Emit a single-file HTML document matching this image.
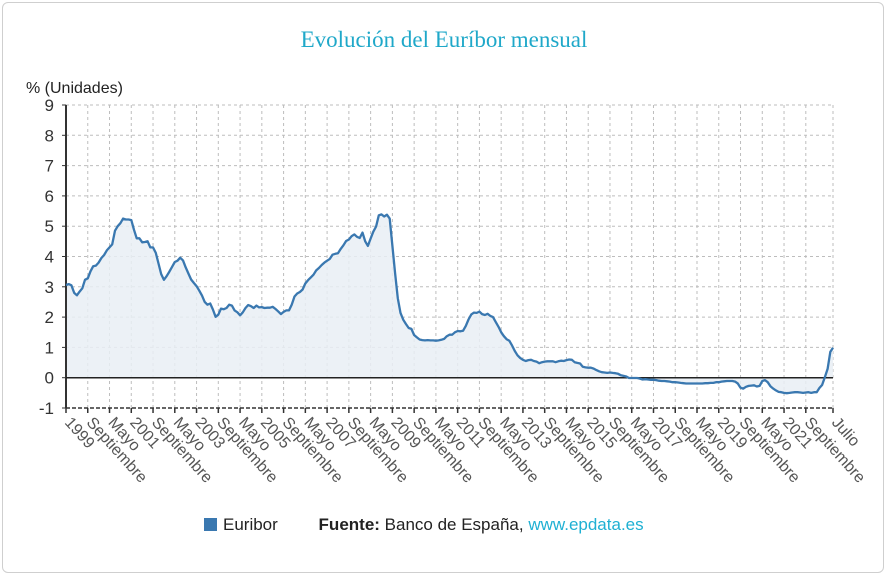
<!DOCTYPE html>
<html><head><meta charset="utf-8"><style>
body{margin:0;background:#fff;width:888px;height:577px;overflow:hidden;font-family:"Liberation Sans",sans-serif}
#frame{position:absolute;left:2px;top:2px;width:882px;height:571px;border:1px solid #cfcfcf;border-radius:6px;box-sizing:border-box}
#title{position:absolute;left:0;width:888px;top:27px;text-align:center;font-family:"Liberation Serif",serif;font-size:23px;color:#1fa8c9}
#legend{position:absolute;top:515px;left:204px;font-size:17px;color:#222;white-space:nowrap}
</style></head><body>
<div id="frame"></div>
<div id="title">Evolución del Euríbor mensual</div>
<svg id="chart" width="888" height="577" style="position:absolute;left:0;top:0"></svg>
<div id="legend">
<span><span style="display:inline-block;width:13px;height:13px;background:#3a78b0;vertical-align:-1px;margin-right:6px"></span>Euribor</span>
<span style="margin-left:36px"><b>Fuente:</b> Banco de España, <span style="color:#1fb0d3">www.epdata.es</span></span>
</div>
<script>
const startYear = 1999;
const values = [
3.06,3.09,3.05,2.80,2.72,2.84,2.95,3.23,3.28,3.51,3.68,3.70,
3.80,3.95,4.05,4.20,4.30,4.40,4.85,5.00,5.10,5.25,5.22,5.22,
5.20,4.88,4.60,4.60,4.47,4.48,4.50,4.30,4.30,4.12,3.77,3.42,
3.23,3.35,3.50,3.66,3.82,3.86,3.96,3.87,3.64,3.44,3.24,3.13,
3.02,2.87,2.71,2.50,2.41,2.45,2.25,2.01,2.08,2.28,2.26,2.30,
2.41,2.38,2.22,2.16,2.06,2.16,2.30,2.40,2.36,2.30,2.38,2.32,
2.33,2.30,2.31,2.31,2.34,2.27,2.19,2.10,2.17,2.22,2.22,2.41,
2.68,2.78,2.83,2.91,3.11,3.22,3.31,3.40,3.54,3.62,3.72,3.80,
3.86,3.92,4.06,4.09,4.11,4.25,4.37,4.51,4.56,4.67,4.73,4.65,
4.61,4.79,4.50,4.35,4.59,4.82,4.99,5.36,5.39,5.32,5.38,5.25,
4.35,3.45,2.62,2.14,1.91,1.77,1.64,1.61,1.41,1.33,1.26,1.24,
1.23,1.24,1.23,1.23,1.22,1.23,1.25,1.28,1.37,1.42,1.42,1.50,
1.54,1.53,1.55,1.71,1.92,2.09,2.15,2.14,2.18,2.10,2.07,2.11,
2.04,2.00,1.84,1.68,1.50,1.37,1.27,1.22,1.06,0.88,0.74,0.65,
0.59,0.55,0.58,0.59,0.55,0.53,0.48,0.51,0.53,0.54,0.54,0.54,
0.51,0.54,0.56,0.55,0.58,0.60,0.59,0.51,0.49,0.47,0.36,0.34,
0.33,0.33,0.30,0.25,0.21,0.18,0.17,0.16,0.17,0.16,0.15,0.13,
0.08,0.06,0.04,-0.01,-0.01,-0.01,-0.01,-0.03,-0.06,-0.05,-0.06,-0.07,
-0.07,-0.08,-0.10,-0.11,-0.11,-0.12,-0.13,-0.15,-0.15,-0.16,-0.17,-0.18,
-0.19,-0.19,-0.19,-0.19,-0.19,-0.19,-0.19,-0.18,-0.18,-0.17,-0.17,-0.15,
-0.15,-0.13,-0.12,-0.11,-0.11,-0.11,-0.13,-0.19,-0.33,-0.36,-0.30,-0.27,
-0.26,-0.25,-0.29,-0.27,-0.11,-0.08,-0.15,-0.28,-0.36,-0.42,-0.47,-0.48,
-0.50,-0.51,-0.50,-0.49,-0.48,-0.48,-0.49,-0.50,-0.49,-0.48,
-0.50,-0.48,-0.48,-0.34,-0.24,0.01,0.29,0.85,0.99];
const yTicks = [-1,0,1,2,3,4,5,6,7,8,9];
const monthNames = ["Enero","Febrero","Marzo","Abril","Mayo","Junio","Julio","Agosto","Septiembre","Octubre","Noviembre","Diciembre"];
const endLabel = "Julio";
const tickStep = 8;

const L=66,R=833,T=105,B=408,yMin=-1,yMax=9;
const n = values.length;
const xS = i => L + (R-L)*i/(n-1);
const yS = v => B - (B-T)*(v-yMin)/(yMax-yMin);
const svg = document.getElementById('chart');
const NS='http://www.w3.org/2000/svg';
function mk(tag, attrs){const e=document.createElementNS(NS,tag);for(const k in attrs)e.setAttribute(k,attrs[k]);svg.appendChild(e);return e;}

yTicks.forEach(v=>{
  const y=yS(v);
  const g=mk('line',{x1:L,x2:R,y1:y,y2:y,stroke:'#bdbdbd','stroke-dasharray':'3,3'});
  
  
  const t=mk('text',{x:54,y:y+6,'text-anchor':'end','font-size':17,fill:'#333','font-family':'Liberation Sans, sans-serif'});
  t.textContent=v;
  
  
  const tk=mk('line',{x1:L-4,x2:L,y1:y,y2:y,stroke:'#333'});
  
  
});
const xticks=[];
for(let i=0;i<n-4;i+=tickStep) xticks.push(i);
xticks.push(n-1);
xticks.forEach((i,k)=>{
  const x=xS(i);
  const g=mk('line',{x1:x,x2:x,y1:T,y2:B,stroke:'#bdbdbd','stroke-dasharray':'3,3'});
  
  
  const tk=mk('line',{x1:x,x2:x,y1:B,y2:B+5,stroke:'#333','stroke-width':1.5});
  
  
  const m=i%12, yr=startYear+Math.floor(i/12);
  const lab = k===xticks.length-1 ? endLabel : (m===0 ? String(yr) : monthNames[m]);
  const tx=x-2, ty=B+15;
  const t=mk('text',{x:tx,y:ty,'font-size':16,fill:'#555','font-family':'Liberation Sans, sans-serif',transform:`rotate(48 ${tx} ${ty})`});
  t.textContent=lab;
  
  
});
const y0=yS(0);
let d=`M${xS(0)},${y0}`;
values.forEach((v,i)=>{d+=`L${xS(i)},${yS(v)}`;});
d+=`L${xS(n-1)},${y0}Z`;
const area=mk('path',{d:d,fill:'#e9eef5','fill-opacity':0.85});


const ax=mk('line',{x1:L,x2:L,y1:T,y2:B,stroke:'#333','stroke-width':2});


const bx=mk('line',{x1:L,x2:R,y1:B,y2:B,stroke:'#333','stroke-width':1.5,'stroke-dasharray':'4,2'});


const zl=mk('line',{x1:L,x2:R,y1:y0,y2:y0,stroke:'#222','stroke-width':1.5});


const pts=values.map((v,i)=>`${xS(i).toFixed(1)},${yS(v).toFixed(1)}`).join(' ');
const ln=mk('polyline',{points:pts,fill:'none',stroke:'#3a78b0','stroke-width':2.3,'stroke-linejoin':'round'});


const ul=mk('text',{x:26,y:93,'font-size':16,fill:'#222','font-family':'Liberation Sans, sans-serif'});
ul.textContent='% (Unidades)';


</script>
</body></html>
